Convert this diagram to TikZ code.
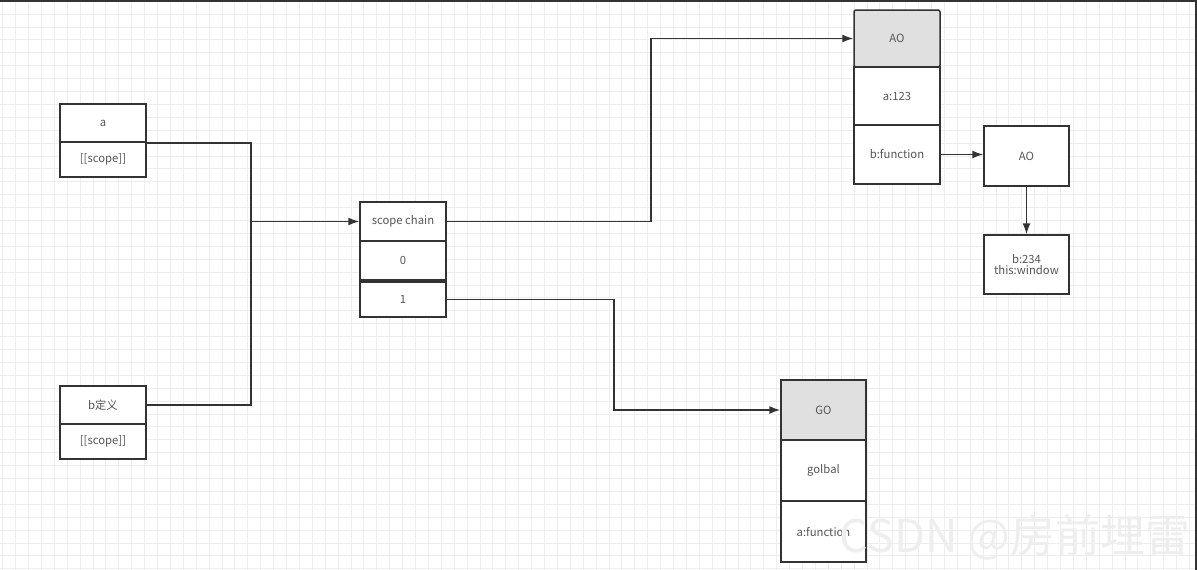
\documentclass[tikz,border=0pt]{standalone}
\usepackage{fontspec}
\setmainfont{Noto Sans CJK SC}
\usetikzlibrary{arrows.meta}
\definecolor{boxline}{HTML}{333333}
\definecolor{boxtext}{HTML}{555555}
\definecolor{headfill}{HTML}{E0E0E0}
\definecolor{gridline}{HTML}{EEEEEE}
\begin{document}
\begin{tikzpicture}[x=1pt, y=-1pt, >={Latex[length=11pt, width=8pt]}, line width=1.5pt,
    font=\fontsize{11.3}{13}\selectfont,
    cell/.style={draw=boxline, fill=white, text=boxtext, inner sep=0pt,
                 minimum width=86pt, minimum height=38pt, align=center},
    head/.style={cell, fill=headfill},
    link/.style={draw=boxline, ->}]
    \useasboundingbox (0,0) rectangle (1197,570);
    \fill[white] (0,0) rectangle (1197,570);
    \foreach \gx in {0,...,92}
        \draw[gridline, line width=1pt] ({2.7+12.9*\gx},0) -- ({2.7+12.9*\gx},570);
    \foreach \gy in {0,...,44}
        \draw[gridline, line width=1pt] (0,{1.2+12.9*\gy}) -- (1197,{1.2+12.9*\gy});
    \draw[boxline, line width=2pt] (0,1) -- (1196,1) -- (1196,570);

    % variables of the outer function
    \node[cell] (a)      at (103,123)   {a};
    \node[cell, minimum height=35pt] (ascope) at (103,159.5) {[[scope]]};
    \node[cell] (b)      at (103,405)   {b定义};
    \node[cell, minimum height=35pt] (bscope) at (103,441.5) {[[scope]]};

    % scope chain
    \node[cell, minimum height=39pt] (chain) at (403,221.5) {scope chain};
    \node[cell, minimum height=39pt] (zero)  at (403,260.5) {0};
    \node[cell, minimum height=35pt] (one)   at (403,299.5) {1};

    % activation objects
    \node[head, rounded corners=2pt, minimum height=57pt] (ao) at (897,38.5) {AO};
    \node[cell, minimum height=58pt] (a123) at (897,96)    {a:123};
    \node[cell, minimum height=59pt] (bfun) at (897,154.5) {b:function};
    \node[cell, minimum width=85pt, minimum height=60pt] (aob)  at (1026.5,156)   {AO};
    \node[cell, minimum width=85pt, minimum height=59pt] (b234) at (1026.5,264.5) {b:234\\[-1.5pt]this:window};

    % global object
    \node[head, minimum width=85pt, minimum height=60pt] (go)   at (823.5,410)   {GO};
    \node[cell, minimum width=85pt, minimum height=61pt] (glob) at (823.5,470.5) {golbal};
    \node[cell, minimum width=85pt, minimum height=61pt] (afun) at (823.5,531.5) {a:function};

    \coordinate (jn) at (251,221.5);
    \draw[boxline] (a.south east) -| (jn);
    \draw[boxline] (b.east) -| (jn);
    \draw[link] (jn) -- (chain.west);
    \draw[link] (chain.east) -- ++(204,0) |- (ao.west);
    \draw[link] (one.east) -- ++(167,0) |- (go.west);
    \draw[link] (bfun.east) -- (bfun.east -| aob.west);
    \draw[link] (aob.south) -- (b234.north);

    \node[text=gray!13, font=\fontsize{45}{45}\selectfont] (mark) at (1015,537) {CSDN @房前埋雷};
\end{tikzpicture}
\end{document}
